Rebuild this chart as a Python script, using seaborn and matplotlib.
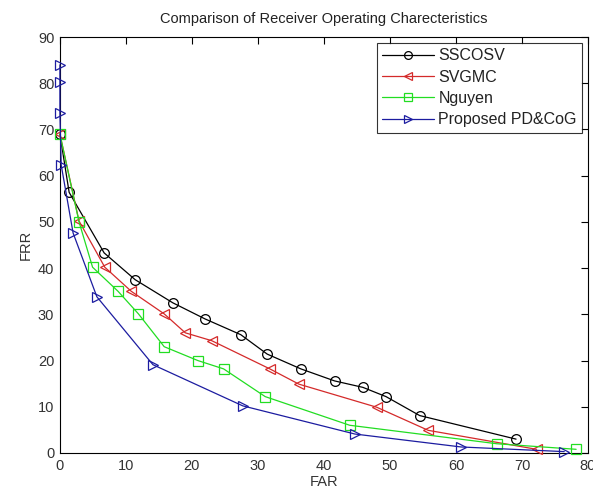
import pandas as pd
import numpy as np
import seaborn as sns
import matplotlib.pyplot as plt

# === data ===
sscosv_far = [0, 1.4, 6.7, 11.4, 17.1, 22.0, 27.4, 31.4, 36.5, 41.6, 45.9, 49.4, 54.5, 69.1]
sscosv_frr = [69, 56.4, 43.3, 37.5, 32.5, 29.0, 25.6, 21.4, 18.2, 15.6, 14.2, 12.2, 8.1, 3.0]

svgmc_far = [0, 2.9, 6.8, 10.8, 15.8, 19.0, 23.0, 31.8, 36.2, 48.0, 55.8, 72.2]
svgmc_frr = [69, 50.2, 40.2, 35.0, 30.1, 26.0, 24.3, 18.2, 14.9, 9.9, 4.9, 0.8]

nguyen_far = [0, 2.9, 4.95, 8.8, 11.9, 15.8, 20.9, 24.8, 31.1, 43.9, 66.2, 78.2]
nguyen_frr = [69, 50.0, 40.2, 35.0, 30.1, 23.0, 20.0, 18.2, 12.2, 6.0, 2.0, 0.8]

pdcog_far = [0, 0, 0, 0.2, 2.0, 5.6, 14.1, 27.7, 44.7, 60.8, 76.4]
pdcog_frr = [84.0, 80.3, 73.5, 62.3, 47.6, 33.8, 19.1, 10.2, 4.1, 1.3, 0.3]

series = [
    ("SSCOSV", sscosv_far, sscosv_frr, "black", "o"),
    ("SVGMC", svgmc_far, svgmc_frr, "#d42a2a", "<"),
    ("Nguyen", nguyen_far, nguyen_frr, "#22dd22", "s"),
    ("Proposed PD&CoG", pdcog_far, pdcog_frr, "#1c1ca0", ">"),
]

# === plot ===
sns.set_style("white")
plt.rcParams["font.family"] = ["Liberation Sans", "DejaVu Sans"]

fig = plt.figure(figsize=(5.93, 4.94), dpi=100)
ax = fig.add_axes([0.101, 0.083, 0.8906, 0.842])

for name, far, frr, col, mk in series:
    df = pd.DataFrame({"FAR": far, "FRR": frr})
    # estimator=None so repeated FAR values (the x=0 points) are kept as-is
    sns.lineplot(data=df, x="FAR", y="FRR", sort=False, estimator=None, ax=ax,
                 color=col, marker=mk, markersize=7, markerfacecolor="none",
                 markeredgecolor=col, markeredgewidth=0.9, linewidth=0.9,
                 label=name, clip_on=False, zorder=3)

ax.set_xlim(0, 80)
ax.set_ylim(0, 90)
ax.set_xticks(np.arange(0, 81, 10))
ax.set_yticks(np.arange(0, 91, 10))
ax.tick_params(direction="in", top=True, right=True, length=5, labelsize=10.5,
               color="black", labelcolor="#333333", pad=4)
for sp in ax.spines.values():
    sp.set_color("black")
    sp.set_linewidth(0.8)

ax.set_xlabel("FAR", fontsize=10.5, labelpad=2, color="#333333")
ax.set_ylabel("FRR", fontsize=10.5, labelpad=4, color="#333333")
ax.set_title("Comparison of Receiver Operating Charecteristics", fontsize=10.5,
             pad=10, color="#222222")

leg = ax.legend(loc="upper right", fontsize=11.5, frameon=True, fancybox=False,
                edgecolor="black", borderaxespad=0.35, handlelength=3.2,
                labelspacing=0.4, borderpad=0.35, handletextpad=0.3,
                markerscale=0.8)
leg.get_frame().set_linewidth(0.8)
for t in leg.get_texts():
    t.set_color("#222222")

plt.savefig("out.png", dpi=100)
